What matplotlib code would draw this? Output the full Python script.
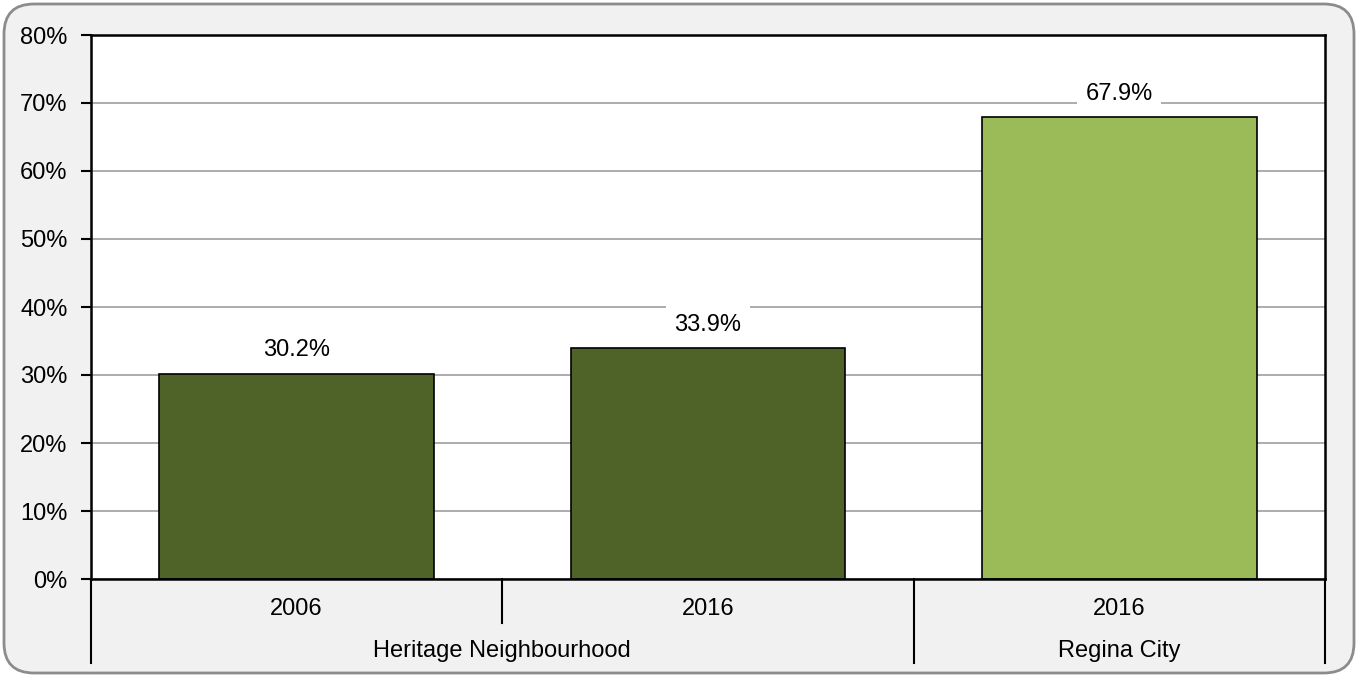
import matplotlib
matplotlib.use("Agg")
import matplotlib.pyplot as plt
from matplotlib.patches import FancyBboxPatch
from matplotlib.ticker import PercentFormatter

# ── Datos ────────────────────────────────────────────────────────────
anios = ["2006", "2016", "2016"]
grupos = ["Heritage Neighbourhood", "Regina City"]
grupo_tamanos = [2, 1]
valores = [30.2, 33.9, 67.9]
colores = ["#4f6228", "#4f6228", "#9bbb59"]

plt.rcParams["font.family"] = ["Liberation Sans", "DejaVu Sans"]
FS = 17

W, H = 1358, 677
fig = plt.figure(figsize=(W / 100, H / 100), dpi=100, facecolor="white")

# Marco redondeado de fondo
marco = FancyBboxPatch((4, 4), W - 8, H - 8,
                       boxstyle="round,pad=0,rounding_size=30",
                       facecolor="#f1f1f1", edgecolor="#8c8c8c", lw=2,
                       transform=None, zorder=-10)
fig.add_artist(marco)

x0, x1, y0, y1 = 91, 1325, 579, 35
ax = fig.add_axes([x0 / W, 1 - y0 / H, (x1 - x0) / W, (y0 - y1) / H])
ax.set_facecolor("white")

xs = list(range(len(valores)))
ax.bar(xs, valores, width=0.667, color=colores, edgecolor="black",
       linewidth=1.2, zorder=3)

for x, v in zip(xs, valores):
    ax.annotate(f"{v:.1f}%", (x, v), xytext=(0, 17), textcoords="offset points",
                ha="center", va="center", fontsize=FS, zorder=4,
                bbox=dict(facecolor="white", edgecolor="none", pad=6))

ax.set_xlim(-0.5, len(valores) - 0.5)
ax.set_ylim(0, 80)
ax.set_yticks(range(0, 81, 10))
ax.yaxis.set_major_formatter(PercentFormatter(decimals=0))
ax.grid(axis="y", color="#a6a6a6", lw=1.3, zorder=0)
ax.set_axisbelow(True)
ax.set_xticks([])
ax.tick_params(axis="y", direction="out", length=7, width=1.5,
               labelsize=FS, pad=10)
for s in ax.spines.values():
    s.set_color("black")
    s.set_linewidth(1.8)
    s.set_zorder(5)

# ── Eje de categorías en dos niveles ────────────────────────────────
trans = ax.get_xaxis_transform()
alto = y0 - y1
nivel1 = -(609 - y0) / alto
nivel2 = -(651 - y0) / alto
sep_corto = -(623 - y0) / alto
sep_largo = -(663 - y0) / alto

for x, a in zip(xs, anios):
    ax.text(x, nivel1, a, transform=trans, ha="center", va="center",
            fontsize=FS)

inicio = 0
for g, n in zip(grupos, grupo_tamanos):
    centro = inicio + (n - 1) / 2
    ax.text(centro, nivel2, g, transform=trans, ha="center", va="center",
            fontsize=FS)
    for k in range(inicio, inicio + n - 1):
        ax.plot([k + 0.5, k + 0.5], [0, sep_corto], transform=trans,
                color="black", lw=1.5, clip_on=False)
    inicio += n

limites = [-0.5]
acc = -0.5
for n in grupo_tamanos:
    acc += n
    limites.append(acc)
for b in limites:
    ax.plot([b, b], [0, sep_largo], transform=trans, color="black",
            lw=1.5, clip_on=False)

fig.savefig("out.png", dpi=100, facecolor="white")
